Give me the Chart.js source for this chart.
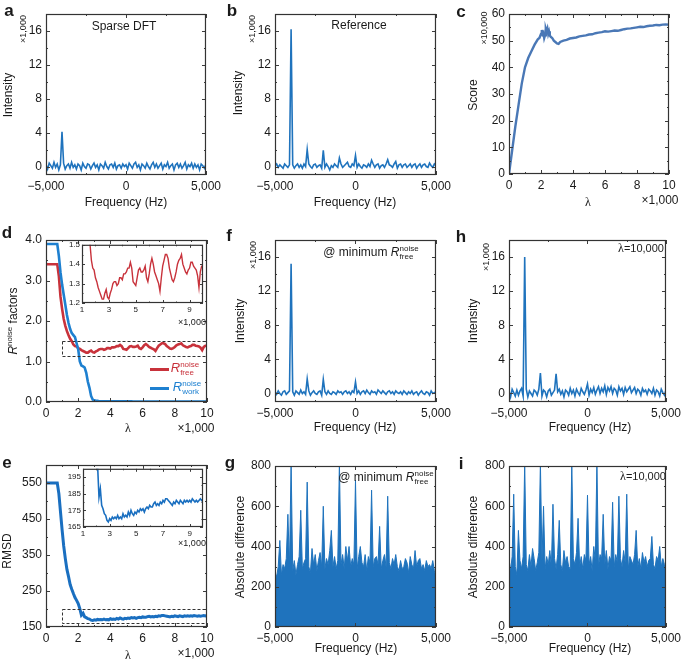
<!DOCTYPE html>
<html>
<head>
<meta charset="utf-8">
<script src="https://cdn.jsdelivr.net/npm/chart.js@4.4.0/dist/chart.umd.min.js"></script>
<style>
  body { margin: 0; background: #fff; width: 685px; height: 664px; position: relative; overflow: hidden;
         font-family: 'Liberation Sans', Arial, Helvetica, sans-serif; color: #1a1a1a; }
  canvas { position: absolute; }
  .t { position: absolute; white-space: nowrap; font-size: 12px; line-height: 1; transform: translate(-50%, -50%); }
  .rot { transform: translate(-50%, -50%) rotate(-90deg); }
  .p { font-weight: bold; font-size: 17px; }
  .m { font-size: 9px; }
  .lam { font-family: 'Liberation Serif', serif; font-size: 12px; }
  .ss { display: inline-block; vertical-align: middle; font-size: 8px; line-height: 8px; text-align: left; font-style: normal; }
  .sw { position: absolute; height: 3px; }
</style>
</head>
<body>
<script>
// ---- data ----
const freqStart = -5000, freqStep = 100, freqCount = 101;
const freqTicks = [-5000, 0, 5000];
const intTicks = [0, 4, 8, 12, 16];
const scoreTicks = [0, 10, 20, 30, 40, 50, 60];
const lamTicks = [0, 2, 4, 6, 8, 10];
const rTicks = [0, 1, 2, 3, 4];
const rmsdTicks = [150, 250, 350, 450, 550];
const diffTicks = [0, 200, 400, 600, 800];
const insetLamTicks = [1, 3, 5, 7, 9];
const dInsetTicks = [1.2, 1.3, 1.4, 1.5];
const eInsetTicks = [165, 175, 185, 195];

// intensities in units of 1,000
const aNoise = [0.2,-0.3,0.4,0.1,-0.2,0.5,-0.1,0.3,-0.4,0.2, 0.0,0.4,-0.3,0.1,0.3,-0.2,0.5,-0.1,0.2,-0.3,
  0.3,0.1,-0.4,0.4,0.0,-0.2,0.3,0.2,-0.3,0.1, 0.4,-0.1,0.2,-0.4,0.3,0.1,-0.2,0.5,0.0,-0.3,
  0.2,0.3,-0.1,0.4,-0.3,0.1,0.2,-0.2,0.3,0.0, 0.2,-0.3,0.4,0.1,-0.2,0.3,0.5,-0.1,0.2,-0.4,
  0.3,0.1,-0.2,0.4,0.0,-0.3,0.2,0.5,-0.1,0.3, -0.2,0.1,0.4,-0.3,0.2,0.0,0.5,-0.2,0.1,0.3,
  -0.4,0.2,0.4,-0.1,0.3,-0.2,0.1,0.5,-0.3,0.2, 0.0,0.4,-0.2,0.3,-0.1,0.2,-0.4,0.3,0.1,-0.2, 0.3];
const aSpikes = [[-4000, 4.1]];

const bNoise = [0.1,0.3,-0.1,0.2,0.0,-0.2,0.3,0.1,-0.1,0.2, 0.1,0.2,-0.2,0.1,0.3,-0.1,0.2,-0.2,0.3,0.0,
  0.1,0.3,0.0,-0.2,0.2,0.3,-0.1,0.1,0.2,-0.2, 0.2,-0.1,0.3,0.0,-0.4,0.1,-0.1,0.3,0.1,-0.1,
  0.2,0.3,-0.1,0.1,0.3,0.4,0.0,-0.1,0.3,0.1, 0.2,-0.1,0.3,0.0,-0.2,0.2,0.1,-0.1,0.3,0.0,
  0.1,0.3,-0.1,0.2,0.3,-0.2,0.1,0.2,-0.1,0.3, 0.0,0.2,0.1,-0.1,0.3,0.0,-0.2,0.2,0.3,-0.1,
  0.2,0.3,-0.1,0.1,0.3,-0.1,0.2,0.3,-0.2,0.1, 0.3,-0.1,0.2,0.3,0.0,-0.1,0.4,0.1,-0.1,0.3, 0.1];
const bSpikes = [[-4000, 16.2], [-3000, 2.0], [-2000, 1.9], [-1000, 1.0], [-500, 0.5], [0, 1.3],
  [1000, 0.75], [2000, 0.8], [2500, 0.6]];

const fNoise = [0.2,-0.1,0.3,0.0,-0.2,0.2,0.3,-0.1,0.1,0.3, 0.0,0.2,-0.2,0.3,0.1,-0.1,0.4,0.0,0.2,-0.1,
  0.2,0.3,-0.2,0.1,0.3,0.0,-0.1,0.2,0.3,-0.2, 0.1,0.2,-0.1,0.3,0.0,-0.1,0.2,0.1,-0.1,0.3,
  0.1,0.2,-0.1,0.2,0.3,0.0,0.2,-0.1,0.3,0.1, 0.2,0.0,0.3,-0.1,0.2,0.3,0.0,0.4,0.1,-0.1,
  0.3,0.1,0.2,-0.1,0.4,0.2,0.0,0.3,0.1,-0.1, 0.2,0.3,0.0,0.2,-0.1,0.3,0.1,0.0,0.2,-0.1,
  0.3,0.1,-0.1,0.2,0.0,0.3,-0.1,0.1,0.2,-0.2, 0.1,0.3,0.0,-0.1,0.2,0.1,-0.2,0.3,0.0,0.1, 0.2];
const fSpikes = [[-4000, 15.2], [-3000, 1.7], [-2000, 1.65], [0, 1.35]];

const hNoise = [0.3,-0.4,0.5,0.1,-0.3,0.4,-0.2,0.3,0.6,-0.3, 0.2,0.5,-0.4,0.3,0.0,-0.3,0.4,0.2,-0.2,0.5,
  0.1,-0.3,0.4,0.2,-0.4,0.3,0.5,-0.2,0.1,0.4, -0.3,0.2,0.5,-0.1,0.3,-0.4,0.4,0.2,-0.2,0.6,
  0.0,0.4,-0.3,0.5,0.1,-0.2,0.6,0.2,-0.1,0.4, 0.3,-0.2,0.5,0.1,0.7,-0.1,0.4,0.8,0.0,0.6,
  0.2,0.9,-0.1,0.7,0.3,0.8,0.0,0.6,0.4,-0.2, 0.8,0.3,0.6,-0.1,0.7,0.2,0.5,0.8,0.1,0.4,
  0.7,0.0,0.5,0.3,-0.2,0.6,0.2,0.4,-0.1,0.5, 0.3,0.0,0.6,-0.2,0.4,0.2,-0.3,0.5,0.1,-0.2, 0.4];
const hSpikes = [[-4000, 16.0], [-3000, 2.4], [-2000, 2.3], [0, 1.1]];

const gDiff = [270,250,300,430,260,310,290,340,560,300, 820,280,330,260,310,350,580,290,320,340,
  720,300,270,390,310,360,280,330,370,300, 600,290,340,310,380,480,300,350,290,330,
  820,310,360,290,400,330,400,300,340,310, 730,290,350,400,320,300,360,280,350,320,
  680,300,340,350,310,500,290,330,360,300, 650,320,290,340,310,360,300,280,330,290,
  300,340,320,270,350,310,290,380,300,330, 340,290,310,280,330,300,310,290,330,280, 250];
const iDiff = [340,280,350,660,300,260,480,330,290,350, 820,310,280,360,300,390,340,280,320,370,
  820,330,600,290,350,310,380,300,610,340, 290,360,530,310,280,380,320,350,300,290,
  820,340,310,370,540,300,350,290,360,330, 655,310,350,280,400,330,820,300,360,340,
  560,310,380,290,350,330,620,300,360,320, 650,340,300,380,320,660,290,350,330,310,
  360,480,300,340,290,370,320,350,300,330, 340,450,310,290,350,330,400,300,340,310, 280];

// lambda in units of 1,000
const lamC = [0,0.2,0.4,0.6,0.8,1.0,1.2,1.4,1.6,1.8, 1.9,2.0,2.05,2.1,2.15,2.2,2.25,2.3,2.35,2.4,
  2.45,2.5,2.55,2.6,2.7,2.8,2.9,3.0,3.1,3.2, 3.4,3.6,3.8,4.0,4.2,4.4,4.6,4.8,5.0,5.2,
  5.4,5.6,5.8,6.0,6.2,6.4,6.6,6.8,7.0,7.2, 7.4,7.6,7.8,8.0,8.2,8.4,8.6,8.8,9.0,9.2, 9.4,9.6,9.8,10.0];
const scoreC = [0,9,18,26,34,40,43.5,46,48.5,50.5, 51,52.5,54,52.5,53,51,52,54.5,53.5,54.5,
  52.5,53.5,52,51.5,51,50,49.5,49,48.8,49.5, 50,50.3,50.8,51,51.2,51.6,51.8,52,52.3,52.4,
  52.8,53,53.2,53.5,53.4,53.6,53.8,53.7,54,54.3, 54.5,54.6,54.8,55,55.2,55.1,55.4,55.6,55.7,55.9, 55.8,56,56.1,56];

const lamD = [0, 0.7,0.8,0.9,1.0,1.1,1.2,1.3,1.4,1.5,1.6, 1.7,1.8,1.9,2.0,2.1,2.2,2.3,2.4,2.5,2.6,
  2.7,2.8,2.9,3.0,3.1,3.2,3.3,3.4,3.5,3.6, 3.7,3.8,3.9,4.0,4.1,4.2,4.3,4.4,4.5,4.6,
  4.7,4.8,4.9,5.0,5.1,5.2,5.3,5.4,5.5,5.6, 5.7,5.8,5.9,6.0,6.1,6.2,6.3,6.4,6.5,6.6,
  6.7,6.8,6.9,7.0,7.1,7.2,7.3,7.4,7.5,7.6, 7.7,7.8,7.9,8.0,8.1,8.2,8.3,8.4,8.5,8.6,
  8.7,8.8,8.9,9.0,9.1,9.2,9.3,9.4,9.5,9.6, 9.7,9.8,9.9,10.0];
const rFree = [3.4, 3.4,3.1,2.6,2.3,2.05,1.88,1.75,1.65,1.56,1.5, 1.42,1.38,1.37,1.33,1.31,1.28,1.26,1.24,1.22,1.22,
  1.25,1.27,1.23,1.22,1.25,1.27,1.30,1.31,1.31,1.29, 1.30,1.33,1.33,1.32,1.35,1.35,1.36,1.38,1.38,1.41,
  1.38,1.31,1.30,1.29,1.33,1.37,1.38,1.36,1.36,1.37, 1.39,1.33,1.31,1.35,1.40,1.43,1.40,1.36,1.34,1.32,
  1.30,1.26,1.33,1.39,1.42,1.45,1.45,1.43,1.38,1.35, 1.32,1.31,1.33,1.36,1.40,1.42,1.43,1.45,1.40,1.38,
  1.36,1.35,1.37,1.38,1.41,1.41,1.39,1.38,1.37,1.34, 1.28,1.36,1.39,1.39];
const rWork = [3.9, 3.9,3.6,3.2,2.9,2.65,2.4,2.15,1.95,1.8,1.7, 1.65,1.6,1.45,1.3,1.0,0.9,0.88,0.85,0.72,0.5,
  0.35,0.15,0.06,0.04,0.03,0.03,0.02,0.02,0.02,0.02, 0.02,0.02,0.02,0.02,0.02,0.02,0.02,0.02,0.02,0.02,
  0.02,0.02,0.02,0.02,0.02,0.02,0.02,0.01,0.01,0.01, 0.01,0.01,0.01,0.01,0.01,0.01,0.01,0.01,0.01,0.01,
  0.01,0.01,0.01,0.01,0.01,0.01,0.01,0.01,0.01,0.01, 0.01,0.01,0.01,0.01,0.01,0.01,0.01,0.01,0.01,0.01,
  0.01,0.01,0.01,0.01,0.01,0.01,0.01,0.01,0.01,0.01, 0.01,0.01,0.01,0.01];
const rmsdE = [550, 550,520,470,420,375,340,310,290,268,255, 243,232,224,215,201,183,188,178,176,173,
  172,169,168,170,169,171,170,171,170,172, 170,171,170,173,171,172,171,174,172,175,
  173,172,174,173,175,174,176,175,176,174, 176,177,176,178,177,177,179,180,178,179,
  178,180,179,181,180,182,182,181,180,179, 178,180,179,181,180,179,181,180,179,181,
  180,181,180,181,180,182,181,180,181,180, 181,182,181,182];
const dBox = [1, 10, 1.13, 1.5];
const eBox = [1, 10, 160, 200];

// ---- helpers ----
const FONT = "'Liberation Sans', Arial, Helvetica, sans-serif";
const BLUE = '#1f73bd';

function freqGrid() {
  const out = [];
  for (let k = 0; k < freqCount; k++) out.push(freqStart + k * freqStep);
  return out;
}
function withSpikes(noise, spikes) {
  const v = noise.slice();
  spikes.forEach(([f, y]) => { v[Math.round((f - freqStart) / freqStep)] = y; });
  return v;
}
function pts(xs, ys) { return xs.map((x, k) => ({ x: x, y: ys[k] })); }

const fmtFreq = v => v === 0 ? '0' : (v < 0 ? '\u2212' : '') + Math.abs(v).toLocaleString('en-US');
const fmtPlain = v => String(v);
const fmt1 = v => v.toFixed(1);

function axis(min, max, ticks, fmt, size) {
  return {
    type: 'linear', min: min, max: max,
    afterBuildTicks: s => { s.ticks = ticks.map(v => ({ value: v })); },
    grid: { display: false, drawTicks: false },
    border: { display: false },
    ticks: { color: '#1a1a1a', font: { family: FONT, size: size }, padding: size > 10 ? 4 : 2,
             maxRotation: 0, autoSkip: false, callback: v => fmt(v) }
  };
}

const framePlugin = {
  id: 'frame',
  beforeDraw(chart, args, o) {
    if (!o.white) return;
    const a = chart.chartArea, ctx = chart.ctx;
    ctx.save(); ctx.fillStyle = '#fff'; ctx.fillRect(a.left, a.top, a.width, a.height); ctx.restore();
  },
  afterDatasetsDraw(chart, args, o) {
    const { ctx, chartArea: a, scales: { x, y } } = chart;
    ctx.save();
    if (o.box) {
      const [x0, x1, y0, y1] = o.box;
      ctx.setLineDash([3, 2]); ctx.strokeStyle = '#333'; ctx.lineWidth = 1;
      const l = x.getPixelForValue(x0), r = x.getPixelForValue(x1);
      const t = y.getPixelForValue(y1), b = y.getPixelForValue(y0);
      ctx.strokeRect(Math.round(l) + 0.5, Math.round(t) + 0.5, Math.round(r - l) - 1, Math.round(b - t));
      ctx.setLineDash([]);
    }
    ctx.strokeStyle = '#3c3c3c'; ctx.lineWidth = 1;
    const L = o.len || 4;
    const line = (x1, y1, x2, y2) => { ctx.beginPath(); ctx.moveTo(x1, y1); ctx.lineTo(x2, y2); ctx.stroke(); };
    const yv = y.ticks.map(t => t.value), xv = x.ticks.map(t => t.value);
    const mids = arr => arr.slice(1).map((v, k) => (v + arr[k]) / 2);
    yv.forEach(v => { const p = Math.round(y.getPixelForValue(v)) + 0.5; line(a.left, p, a.left + L, p); line(a.right - L, p, a.right, p); });
    mids(yv).forEach(v => { const p = Math.round(y.getPixelForValue(v)) + 0.5; line(a.left, p, a.left + L / 2, p); line(a.right - L / 2, p, a.right, p); });
    xv.forEach(v => { const p = Math.round(x.getPixelForValue(v)) + 0.5; line(p, a.bottom, p, a.bottom - L); line(p, a.top, p, a.top + L); });
    mids(xv).forEach(v => { const p = Math.round(x.getPixelForValue(v)) + 0.5; line(p, a.bottom, p, a.bottom - L / 2); line(p, a.top, p, a.top + L / 2); });
    ctx.strokeStyle = '#333'; ctx.lineWidth = 1.2;
    ctx.strokeRect(a.left + 0.5, a.top + 0.5, a.width - 1, a.height - 1);
    ctx.restore();
  }
};

function panel(pos, area, datasets, xAxis, yAxis, frameOpts) {
  const c = document.createElement('canvas');
  c.width = pos.w; c.height = pos.h;
  c.style.left = pos.x + 'px'; c.style.top = pos.y + 'px';
  document.body.appendChild(c);
  xAxis.afterFit = s => { s.height = pos.y + pos.h - area.b; };
  yAxis.afterFit = s => { s.width = area.l - pos.x; };
  return new Chart(c, {
    type: 'line',
    data: { datasets: datasets },
    options: {
      responsive: false, animation: false, devicePixelRatio: 1,
      layout: { padding: { left: 0, bottom: 0, top: area.t - pos.y, right: pos.x + pos.w - area.r } },
      plugins: { legend: { display: false }, tooltip: { enabled: false }, frame: frameOpts || {} },
      elements: { point: { radius: 0 }, line: { tension: 0 } },
      scales: { x: xAxis, y: yAxis }
    },
    plugins: [framePlugin]
  });
}

function spec(data) {
  return { data: data, borderColor: BLUE, borderWidth: 1.6, fill: false };
}

function txt(html, x, y, cls, style) {
  const d = document.createElement('div');
  d.className = 't ' + (cls || '');
  d.innerHTML = html;
  d.style.left = x + 'px'; d.style.top = y + 'px';
  if (style) d.style.cssText += style;
  document.body.appendChild(d);
  return d;
}

// ---- panels ----
const freqs = freqGrid();
const specX = () => axis(-5000, 5000, freqTicks, fmtFreq, 12);
const specY = () => axis(-1, 18, intTicks, fmtPlain, 12);

// a
panel({ x: 0, y: 0, w: 225, h: 212 }, { l: 46, t: 14, r: 207, b: 175 },
  [spec(pts(freqs, withSpikes(aNoise, aSpikes)))], specX(), specY());
// b
panel({ x: 225, y: 0, w: 230, h: 212 }, { l: 275, t: 14, r: 436, b: 175 },
  [spec(pts(freqs, withSpikes(bNoise, bSpikes)))], specX(), specY());
// c
panel({ x: 455, y: 0, w: 230, h: 212 }, { l: 509, t: 14, r: 669, b: 174 },
  [{ data: pts(lamC, scoreC), borderColor: '#4a78b6', borderWidth: 2.4, fill: false }],
  axis(0, 10, lamTicks, fmtPlain, 12), axis(0, 60, scoreTicks, fmtPlain, 12));
// d
panel({ x: 0, y: 212, w: 225, h: 218 }, { l: 46, t: 240, r: 207, b: 402 },
  [{ data: pts(lamD, rWork), borderColor: '#1e80d0', borderWidth: 2.6, fill: false },
   { data: pts(lamD, rFree), borderColor: '#c8323b', borderWidth: 2.6, fill: false }],
  axis(0, 10, lamTicks, fmtPlain, 12), axis(0, 4, rTicks, fmt1, 12), { box: dBox });
// d inset
panel({ x: 60, y: 238, w: 148, h: 80 }, { l: 82, t: 244, r: 203, b: 303 },
  [{ data: pts(lamD, rFree), borderColor: '#c8323b', borderWidth: 1.4, fill: false, clip: 0 }],
  axis(1, 10, insetLamTicks, fmtPlain, 8), axis(1.2, 1.5, dInsetTicks, fmt1, 8), { white: true, len: 3 });
// f
panel({ x: 225, y: 212, w: 230, h: 218 }, { l: 275, t: 240, r: 436, b: 402 },
  [spec(pts(freqs, withSpikes(fNoise, fSpikes)))], specX(), specY());
// h
panel({ x: 455, y: 212, w: 230, h: 218 }, { l: 509, t: 240, r: 670, b: 402 },
  [spec(pts(freqs, withSpikes(hNoise, hSpikes)))], specX(), specY());
// e
panel({ x: 0, y: 430, w: 225, h: 234 }, { l: 46, t: 465, r: 207, b: 627 },
  [{ data: pts(lamD, rmsdE), borderColor: '#1a6fc0', borderWidth: 3, fill: false }],
  axis(0, 10, lamTicks, fmtPlain, 12), axis(150, 600, rmsdTicks, fmtPlain, 12), { box: eBox });
// e inset
panel({ x: 60, y: 462, w: 148, h: 80 }, { l: 83, t: 468, r: 203, b: 527 },
  [{ data: pts(lamD, rmsdE), borderColor: '#1a6fc0', borderWidth: 1.6, fill: false, clip: 0 }],
  axis(1, 10, insetLamTicks, fmtPlain, 8), axis(165, 200, eInsetTicks, fmtPlain, 8), { white: true, len: 3 });
// g
panel({ x: 225, y: 430, w: 230, h: 234 }, { l: 275, t: 466, r: 436, b: 627 },
  [{ data: pts(freqs, gDiff), borderColor: BLUE, backgroundColor: BLUE, borderWidth: 1, fill: 'origin', clip: 0 }],
  specX(), axis(0, 800, diffTicks, fmtPlain, 12));
// i
panel({ x: 455, y: 430, w: 230, h: 234 }, { l: 509, t: 466, r: 670, b: 627 },
  [{ data: pts(freqs, iDiff), borderColor: BLUE, backgroundColor: BLUE, borderWidth: 1, fill: 'origin', clip: 0 }],
  specX(), axis(0, 800, diffTicks, fmtPlain, 12));

// ---- text ----
[['a', 9, 10], ['b', 232, 10], ['c', 461, 11], ['d', 7, 232], ['f', 229, 235], ['h', 461, 236],
 ['e', 7, 462], ['g', 230, 462], ['i', 461, 463]].forEach(([s, x, y]) => txt(s, x, y, 'p'));

txt('Intensity', 8, 95, 'rot'); txt('Intensity', 238, 93, 'rot'); txt('Score', 473, 95, 'rot');
txt('<i>R</i><sup style="font-size:8px">noise</sup> factors', 12, 321, 'rot');
txt('Intensity', 240, 321, 'rot'); txt('Intensity', 473, 321, 'rot');
txt('RMSD', 7, 551, 'rot'); txt('Absolute difference', 240, 547, 'rot'); txt('Absolute difference', 473, 547, 'rot');

txt('Frequency (Hz)', 126, 202); txt('Frequency (Hz)', 355, 202);
txt('Frequency (Hz)', 355, 427); txt('Frequency (Hz)', 590, 427);
txt('Frequency (Hz)', 356, 648); txt('Frequency (Hz)', 590, 648);

txt('\u03bb', 588, 202, 'lam'); txt('\u00d71,000', 660, 200);
txt('\u03bb', 128, 428, 'lam'); txt('\u00d71,000', 196, 428);
txt('\u03bb', 128, 655, 'lam'); txt('\u00d71,000', 196, 653);
txt('\u00d71,000', 192, 322, 'm'); txt('\u00d71,000', 192, 543, 'm');

txt('\u00d71,000', 23, 29, 'rot m'); txt('\u00d71,000', 252, 29, 'rot m');
txt('\u00d710,000', 484, 28, 'rot m'); txt('\u00d71,000', 253, 255, 'rot m'); txt('\u00d71,000', 486, 257, 'rot m');

txt('Sparse DFT', 124, 26); txt('Reference', 359, 25);
const rFreeHtml = '<i>R</i><span class="ss">noise<br>free</span>';
txt('@ minimum ' + rFreeHtml, 371, 253); txt('@ minimum ' + rFreeHtml, 386, 478);
txt('<span class="lam">\u03bb</span>=10,000', 641, 248, '', 'font-size:11px');
txt('<span class="lam">\u03bb</span>=10,000', 643, 476, '', 'font-size:11px');

// legend in d
const sw1 = document.createElement('div'); sw1.className = 'sw';
sw1.style.cssText += 'left:150px;top:368px;width:19px;background:#c8323b';
document.body.appendChild(sw1);
const sw2 = document.createElement('div'); sw2.className = 'sw';
sw2.style.cssText += 'left:150px;top:387px;width:19px;background:#1e80d0';
document.body.appendChild(sw2);
txt('<i>R</i><span class="ss">noise<br>free</span>', 185, 369, '', 'color:#c8323b;font-size:13px');
txt('<i>R</i><span class="ss">noise<br>work</span>', 187, 388, '', 'color:#1e80d0;font-size:13px');
</script>
</body>
</html>
